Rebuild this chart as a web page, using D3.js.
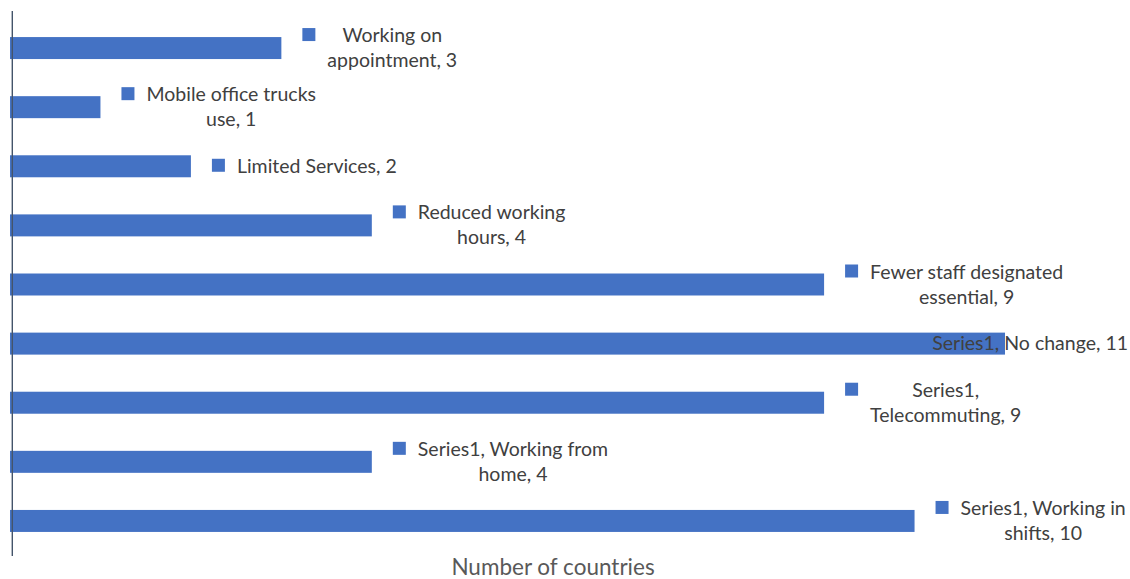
<!DOCTYPE html>
<html>
<head>
<meta charset="utf-8">
<script src="https://cdn.jsdelivr.net/npm/d3@7"></script>
<style>
  html, body { margin: 0; padding: 0; background: #ffffff; }
  svg { display: block; }
  text { font-family: Lato, "Open Sans", sans-serif; }
</style>
</head>
<body>
<script>
// Work arrangements adopted, by number of countries
const categories = [
  "Working on appointment",
  "Mobile office trucks use",
  "Limited Services",
  "Reduced working hours",
  "Fewer staff designated essential",
  "No change",
  "Telecommuting",
  "Working from home",
  "Working in shifts"
];
const values = [3, 1, 2, 4, 9, 11, 9, 4, 10];
const seriesName = "Series1";
const showSeriesName = [false, false, false, false, false, true, true, true, true];
const axisTitle = "Number of countries";

const W = 1130, H = 579;
const barColor = "#4472C4";
const labelColor = "#404040";
const fontSize = 19.5;
const lineGap = 25;
const wrapWidth = 199;

const svg = d3.select("body").append("svg")
  .attr("width", W).attr("height", H);

const x = d3.scaleLinear().domain([0, 11]).range([10, 1005]);
const y = d3.scaleBand()
  .domain(categories)
  .range([18.5, 550.5])
  .paddingInner(0.628)
  .paddingOuter(0.314);

// bars
svg.append("g").selectAll("rect")
  .data(categories)
  .join("rect")
  .attr("x", x(0))
  .attr("y", d => y(d))
  .attr("width", (d, i) => x(values[i]) - x(0))
  .attr("height", y.bandwidth())
  .attr("fill", barColor);

// vertical category axis line
svg.append("line")
  .attr("x1", 12.3).attr("x2", 12.3)
  .attr("y1", 11).attr("y2", 556)
  .attr("stroke", "#44546A")
  .attr("stroke-width", 1.4);

// text measuring helper
const measure = svg.append("text")
  .attr("font-size", fontSize)
  .attr("visibility", "hidden");
function textWidth(s) {
  measure.text(s);
  return measure.node().getComputedTextLength();
}
function wrap(str) {
  const words = str.split(" ");
  const lines = [];
  let cur = "";
  for (const w of words) {
    const test = cur ? cur + " " + w : w;
    if (cur && textWidth(test) > wrapWidth) {
      lines.push(cur);
      cur = w;
    } else {
      cur = test;
    }
  }
  if (cur) lines.push(cur);
  return lines;
}

// data labels: legend key square + wrapped, centred text
const labels = svg.append("g");
categories.forEach((cat, i) => {
  const full = (showSeriesName[i] ? seriesName + ", " : "") + cat + ", " + values[i];
  let lines = wrap(full);
  const cy = y(cat) + y.bandwidth() / 2;
  const endX = x(values[i]);
  let blockW = d3.max(lines, textWidth);
  const sqX = endX + 21;
  let textLeft = sqX + 13 + 12;
  let showKey = true;
  if (textLeft + blockW > W - 2) {
    // label runs past the chart edge: keep it on one line, pinned right, no key
    lines = [full];
    blockW = textWidth(full);
    textLeft = W - 2 - blockW;
    showKey = false;
  }
  const n = lines.length;
  const baselines = lines.map((l, k) => cy + 6.5 + (k - (n - 1) / 2) * lineGap);
  if (showKey) {
    labels.append("rect")
      .attr("x", sqX)
      .attr("y", baselines[0] - 7.5 - 6.5)
      .attr("width", 13).attr("height", 13)
      .attr("fill", barColor);
  }
  const t = labels.append("text")
    .attr("font-size", fontSize)
    .attr("fill", labelColor)
    .attr("text-anchor", "middle");
  lines.forEach((l, k) => {
    t.append("tspan")
      .attr("x", textLeft + blockW / 2)
      .attr("y", baselines[k])
      .text(l);
  });
});
measure.remove();

// axis title
svg.append("text")
  .attr("x", 553).attr("y", 575)
  .attr("text-anchor", "middle")
  .attr("font-size", 22.5)
  .attr("fill", "#595959")
  .text(axisTitle);
</script>
</body>
</html>
